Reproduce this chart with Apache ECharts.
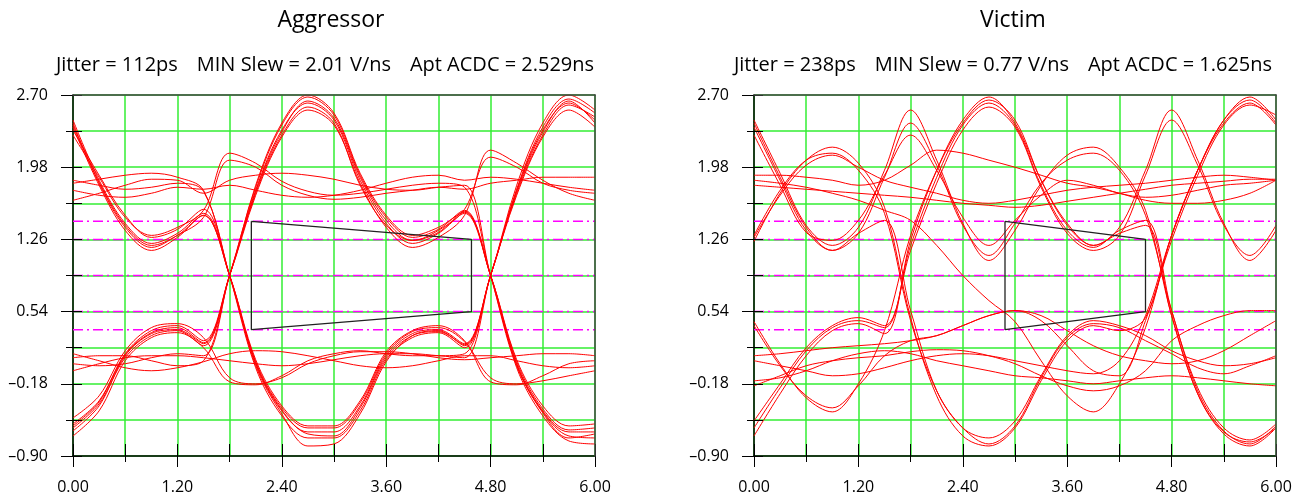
<!DOCTYPE html>
<html>
<head>
<meta charset="utf-8">
<script src="https://cdn.jsdelivr.net/npm/echarts@6.0.0/dist/echarts.min.js"></script>
<style>
  html, body { margin: 0; padding: 0; background: #fff; }
  #chart { width: 1304px; height: 498px; }
</style>
</head>
<body>
<div id="chart"></div>
<script>
// time axis (ns), one sample every 0.3 ns
const timeNs = [0, 0.3, 0.6, 0.9, 1.2, 1.5, 1.8, 2.1, 2.4, 2.7, 3.0, 3.3, 3.6, 3.9, 4.2, 4.5, 4.8, 5.1, 5.4, 5.7, 6.0]

// tick values
const yMinorTicks = [-0.9, -0.54, -0.18, 0.18, 0.54, 0.9, 1.26, 1.62, 1.98, 2.34, 2.7]
const yMajorTicks = [-0.9, -0.18, 0.54, 1.26, 1.98, 2.7]

// magenta threshold levels (V)
const refLevels = [1.44, 1.26, 0.90, 0.54, 0.36]

// eye masks
const aggMaskX = [2.05, 2.05, 4.58, 4.58, 2.05]
const aggMaskY = [1.44, 0.36, 0.54, 1.26, 1.44]
const vicMaskX = [2.885, 2.885, 4.50, 4.50, 2.885]
const vicMaskY = [1.44, 0.36, 0.54, 1.26, 1.44]

const chartTitles = ['Aggressor', 'Victim']
const GAP = '   \u2009'
const chartStats = [
  'Jitter = 112ps' + GAP + 'MIN Slew = 2.01 V/ns' + GAP + 'Apt ACDC = 2.529ns',
  'Jitter = 238ps' + GAP + 'MIN Slew = 0.77 V/ns' + GAP + 'Apt ACDC = 1.625ns'
]

// aggressor traces (V)
const agg01 = [2.45, 1.85, 1.42, 1.22, 1.32, 1.52, 0.90, 0.02, -0.45, -0.66, -0.66, -0.40, 0.10, 0.32, 0.36, 0.22, 0.90, 1.75, 2.35, 2.62, 2.45]
const agg02 = [2.38, 1.80, 1.35, 1.15, 1.28, 1.50, 0.90, 0.06, -0.40, -0.60, -0.60, -0.35, 0.14, 0.35, 0.40, 0.25, -0.16, -0.19, -0.10, 0.02, 0.05]
const agg03 = [2.30, 1.88, 1.48, 1.30, 1.38, 1.55, 2.12, 2.02, 1.84, 1.74, 1.70, 1.72, 1.76, 1.80, 1.82, 1.78, 0.90, 0.02, -0.45, -0.66, -0.66]
const agg04 = [2.42, 1.82, 1.38, 1.18, 1.30, 1.48, 2.05, 1.98, 1.80, 1.70, 1.66, 1.68, 1.72, 1.75, 1.78, 1.76, 1.82, 1.85, 1.88, 1.88, 1.88]
const agg05 = [-0.65, -0.40, 0.10, 0.32, 0.36, 0.22, 0.90, 1.75, 2.35, 2.62, 2.45, 1.85, 1.42, 1.22, 1.32, 1.52, 0.90, 0.06, -0.40, -0.60, -0.58]
const agg06 = [-0.58, -0.35, 0.12, 0.35, 0.40, 0.25, 0.90, 1.70, 2.28, 2.55, 2.40, 1.82, 1.38, 1.18, 1.28, 1.50, 2.15, 2.02, 1.85, 1.72, 1.65]
const agg07 = [-0.70, -0.45, 0.05, 0.28, 0.33, 0.18, -0.16, -0.19, -0.10, 0.05, 0.12, 0.15, 0.12, 0.10, 0.10, 0.12, 0.90, 1.70, 2.28, 2.55, 2.38]
const agg08 = [-0.52, -0.30, 0.15, 0.38, 0.42, 0.28, -0.12, -0.18, -0.12, 0.02, 0.10, 0.14, 0.14, 0.12, 0.08, 0.06, 0.08, 0.10, 0.12, 0.12, 0.10]
const agg09 = [1.82, 1.86, 1.90, 1.92, 1.88, 1.75, 0.90, -0.02, -0.50, -0.72, -0.72, -0.45, 0.06, 0.28, 0.33, 0.18, 0.90, 1.80, 2.42, 2.70, 2.55]
const agg10 = [1.65, 1.72, 1.80, 1.86, 1.85, 1.72, 1.85, 1.90, 1.92, 1.90, 1.86, 1.80, 1.76, 1.75, 1.78, 1.80, 0.90, -0.02, -0.50, -0.75, -0.78]
const agg11 = [1.75, 1.70, 1.68, 1.72, 1.78, 1.76, 1.80, 1.75, 1.70, 1.68, 1.70, 1.75, 1.82, 1.88, 1.90, 1.85, 1.88, 1.86, 1.82, 1.78, 1.75]
const agg12 = [0.08, 0.10, 0.10, 0.05, 0.00, 0.05, 0.90, 1.78, 2.40, 2.68, 2.50, 1.90, 1.48, 1.28, 1.36, 1.55, 0.90, 0.00, -0.46, -0.70, -0.72]
const agg13 = [-0.05, 0.02, 0.08, 0.10, 0.10, 0.08, 0.05, 0.02, 0.00, 0.02, 0.06, 0.10, 0.12, 0.12, 0.10, 0.08, 0.90, 1.72, 2.30, 2.60, 2.48]
const agg14 = [0.12, 0.05, -0.02, -0.05, -0.02, 0.04, 0.12, 0.15, 0.14, 0.10, 0.05, 0.00, -0.02, 0.00, 0.05, 0.10, 0.10, 0.05, 0.00, -0.02, 0.00]
const agg15 = [1.85, 1.80, 1.76, 1.78, 1.82, 1.74, 0.90, 0.04, -0.42, -0.62, -0.62, -0.37, 0.12, 0.34, 0.38, 0.24, -0.12, -0.18, -0.15, -0.10, -0.05]
const agg16 = [0.02, 0.00, 0.02, 0.08, 0.12, 0.10, 0.90, 1.72, 2.30, 2.58, 2.42, 1.80, 1.40, 1.25, 1.35, 1.56, 2.08, 1.98, 1.82, 1.75, 1.72]
const agg17 = [-0.62, -0.38, 0.08, 0.30, 0.35, 0.20, 0.90, 1.80, 2.42, 2.70, 2.52, 1.92, 1.50, 1.30, 1.38, 1.53, 0.90, 0.04, -0.43, -0.64, -0.62]
const agg18 = [2.35, 1.90, 1.50, 1.28, 1.36, 1.56, 0.90, 0.00, -0.48, -0.80, -0.78, -0.48, 0.04, 0.30, 0.35, 0.20, 0.90, 1.76, 2.38, 2.66, 2.52]
const agg19 = [2.40, 1.83, 1.40, 1.20, 1.30, 1.50, 0.90, 0.03, -0.44, -0.68, -0.70, -0.42, 0.08, 0.30, 0.34, 0.21, 0.90, 1.74, 2.33, 2.64, 2.42]
const agg20 = [-0.60, -0.36, 0.11, 0.33, 0.38, 0.23, 0.90, 1.74, 2.33, 2.64, 2.47, 1.88, 1.45, 1.25, 1.33, 1.54, 0.90, 0.01, -0.47, -0.72, -0.68]

// victim traces (V)
const vic01 = [2.45, 1.92, 1.40, 1.20, 1.38, 1.95, 2.55, 2.05, 1.42, 1.05, 1.35, 1.80, 2.10, 2.18, 1.98, 1.55, 0.50, -0.28, -0.68, -0.80, -0.62]
const vic02 = [2.38, 1.85, 1.35, 1.15, 1.32, 1.88, 2.42, 2.00, 1.40, 1.10, 1.42, 1.82, 2.05, 2.12, 1.95, 1.50, 0.55, -0.22, -0.62, -0.74, -0.58]
const vic03 = [2.30, 1.80, 1.33, 1.25, 1.45, 1.90, 2.30, 1.95, 1.48, 1.20, 1.45, 1.70, 1.85, 1.80, 1.72, 1.68, 1.70, 1.75, 1.80, 1.82, 1.85]
const vic04 = [2.42, 1.88, 1.38, 1.15, 1.32, 1.45, 0.55, -0.25, -0.62, -0.78, -0.60, -0.12, 0.28, 0.42, 0.38, 0.25, 0.12, -0.02, -0.08, 0.00, 0.10]
const vic05 = [1.24, 1.72, 2.05, 2.18, 2.02, 1.58, 0.48, -0.30, -0.70, -0.80, -0.62, -0.15, 0.25, 0.40, 0.35, 0.48, 1.30, 1.95, 2.45, 2.68, 2.45]
const vic06 = [1.30, 1.75, 2.05, 2.12, 1.95, 1.52, 0.45, -0.25, -0.62, -0.72, -0.55, -0.10, 0.30, 0.45, 0.40, 0.30, 0.15, 0.05, 0.00, 0.02, 0.08]
const vic07 = [1.28, 1.70, 2.00, 2.10, 1.98, 1.85, 1.78, 1.72, 1.65, 1.62, 1.65, 1.70, 1.75, 1.78, 1.80, 1.82, 1.85, 1.88, 1.90, 1.88, 1.85]
const vic08 = [-0.70, -0.28, 0.10, 0.35, 0.42, 0.32, 1.25, 1.95, 2.45, 2.68, 2.42, 1.85, 1.40, 1.20, 1.38, 1.95, 2.55, 2.05, 1.42, 1.05, 1.35]
const vic09 = [-0.62, -0.22, 0.15, 0.38, 0.45, 0.38, 1.20, 1.88, 2.40, 2.62, 2.40, 1.80, 1.35, 1.18, 1.35, 1.45, 0.55, -0.25, -0.65, -0.78, -0.60]
const vic10 = [0.44, 0.02, -0.32, -0.46, -0.18, 0.35, 1.30, 1.95, 2.42, 2.65, 2.45, 1.85, 1.42, 1.20, 1.32, 1.40, 0.50, -0.28, -0.66, -0.76, -0.62]
const vic11 = [0.40, 0.00, -0.30, -0.42, -0.20, 0.10, 0.25, 0.30, 0.40, 0.50, 0.55, 0.50, 0.35, 0.20, 0.10, 0.05, 0.02, 0.05, 0.15, 0.30, 0.45]
const vic12 = [0.05, 0.00, -0.05, -0.10, -0.08, -0.02, 0.05, 0.10, 0.12, 0.10, 0.05, 0.00, -0.05, -0.08, 0.05, 0.50, 1.30, 1.95, 2.45, 2.65, 2.42]
const vic13 = [1.85, 1.82, 1.78, 1.72, 1.65, 1.55, 1.45, 1.20, 0.90, 0.65, 0.44, 0.05, -0.30, -0.46, -0.18, 0.38, 1.30, 1.95, 2.42, 2.62, 2.40]
const vic14 = [0.10, 0.12, 0.15, 0.18, 0.20, 0.22, 0.25, 0.30, 0.40, 0.50, 0.55, 0.45, 0.20, -0.05, -0.10, 0.45, 1.25, 1.90, 2.40, 2.60, 2.50]
const vic15 = [-0.15, -0.12, -0.05, 0.05, 0.12, 0.15, 0.12, 0.05, 0.00, -0.05, -0.10, -0.12, -0.15, -0.18, -0.15, -0.12, -0.10, -0.12, -0.15, -0.18, -0.20]
const vic16 = [1.80, 1.78, 1.76, 1.74, 1.72, 1.70, 1.68, 1.65, 1.62, 1.60, 1.58, 1.60, 1.64, 1.68, 1.72, 1.76, 1.80, 1.82, 1.84, 1.86, 1.86]
const vic17 = [1.90, 1.90, 1.88, 1.85, 1.80, 1.85, 2.00, 2.15, 2.12, 2.05, 1.98, 1.90, 1.82, 1.78, 1.72, 1.65, 1.62, 1.62, 1.65, 1.72, 1.85]
const vic18 = [-0.20, -0.10, 0.00, 0.05, 0.08, 0.10, 0.14, 0.16, 0.15, 0.10, 0.02, -0.10, -0.20, -0.25, -0.20, -0.05, 0.25, 0.40, 0.50, 0.55, 0.55]
const vic19 = [-0.55, -0.18, 0.18, 0.40, 0.48, 0.40, 1.15, 1.82, 2.35, 2.58, 2.38, 1.78, 1.32, 1.15, 1.30, 1.90, 2.45, 2.00, 1.40, 1.10, 1.40]

const aggressorTraces = [agg01, agg02, agg03, agg04, agg05, agg06, agg07, agg08, agg09, agg10,
  agg11, agg12, agg13, agg14, agg15, agg16, agg17, agg18, agg19, agg20]
const victimTraces = [vic01, vic02, vic03, vic04, vic05, vic06, vic07, vic08, vic09, vic10,
  vic11, vic12, vic13, vic14, vic15, vic16, vic17, vic18, vic19]

const FONT = '"Open Sans", "DejaVu Sans", sans-serif'
const GREEN = '#33ee33'
const plots = [
  { left: 73, traces: aggressorTraces, maskX: aggMaskX, maskY: aggMaskY, titleDx: -3, statDx: -9 },
  { left: 754, traces: victimTraces, maskX: vicMaskX, maskY: vicMaskY, titleDx: -2, statDx: -12 }
]
const PLOT_TOP = 95
const PLOT_W = 522
const PLOT_H = 361

function fmtY(v) {
  return v < 0 ? '\u2013' + Math.abs(v).toFixed(2) : v.toFixed(2)
}

const grids = []
const xAxes = []
const yAxes = []
const series = []
const graphics = []

plots.forEach((p, g) => {
  grids.push({ left: p.left, top: PLOT_TOP, width: PLOT_W, height: PLOT_H })
  const xBase = { type: 'value', gridIndex: g, min: 0, max: 6, position: 'bottom' }
  const yBase = { type: 'value', gridIndex: g, min: -0.9, max: 2.7, position: 'left' }
  const noLine = { show: false, onZero: false }

  // x: minor ticks + green grid
  xAxes.push(Object.assign({}, xBase, {
    interval: 0.6,
    axisLine: { show: true, onZero: false, lineStyle: { color: '#000', width: 1.5 } },
    axisTick: { show: true, inside: false, length: 6, lineStyle: { color: '#000' } },
    axisLabel: { show: false },
    splitLine: { show: true, lineStyle: { color: GREEN, width: 1.5 } },
    z: 1
  }))
  // x: major ticks + labels
  xAxes.push(Object.assign({}, xBase, {
    interval: 1.2,
    axisLine: noLine,
    axisTick: { show: true, inside: false, length: 11, lineStyle: { color: '#000' } },
    axisLabel: { show: true, margin: 23, color: '#000', fontSize: 16, fontFamily: FONT,
      formatter: v => v.toFixed(2) },
    splitLine: { show: false },
    z: 5
  }))
  // x: inner ticks
  xAxes.push(Object.assign({}, xBase, {
    interval: 0.6,
    axisLine: noLine,
    axisTick: { show: true, inside: true, length: 12, lineStyle: { color: '#000' } },
    axisLabel: { show: false },
    splitLine: { show: false },
    z: 5
  }))
  // x: top frame
  xAxes.push(Object.assign({}, xBase, {
    position: 'top',
    axisLine: { show: true, onZero: false, lineStyle: { color: '#444', width: 1.5 } },
    axisTick: { show: false },
    axisLabel: { show: false },
    splitLine: { show: false },
    z: 6
  }))

  // y: minor ticks + green grid
  yAxes.push(Object.assign({}, yBase, {
    axisLine: { show: true, onZero: false, lineStyle: { color: '#000', width: 1.5 } },
    axisTick: { show: true, inside: false, length: 7, customValues: yMinorTicks, lineStyle: { color: '#000' } },
    axisLabel: { show: false },
    splitLine: { show: true, lineStyle: { color: GREEN, width: 1.5 } },
    z: 1
  }))
  // y: major ticks + labels
  yAxes.push(Object.assign({}, yBase, {
    axisLine: noLine,
    axisTick: { show: true, inside: false, length: 12, customValues: yMajorTicks, lineStyle: { color: '#000' } },
    axisLabel: { show: true, margin: 25, color: '#000', fontSize: 16, fontFamily: FONT,
      customValues: yMajorTicks, formatter: fmtY },
    splitLine: { show: false },
    z: 5
  }))
  // y: inner ticks
  yAxes.push(Object.assign({}, yBase, {
    axisLine: noLine,
    axisTick: { show: true, inside: true, length: 9, customValues: yMinorTicks, lineStyle: { color: '#000' } },
    axisLabel: { show: false },
    splitLine: { show: false },
    z: 5
  }))
  // y: right frame
  yAxes.push(Object.assign({}, yBase, {
    position: 'right',
    axisLine: { show: true, onZero: false, lineStyle: { color: '#444', width: 1.5 } },
    axisTick: { show: false },
    axisLabel: { show: false },
    splitLine: { show: false },
    z: 6
  }))

  const xi = g * 4
  const yi = g * 4

  refLevels.forEach(level => {
    series.push({
      type: 'line', xAxisIndex: xi, yAxisIndex: yi, silent: true, showSymbol: false,
      data: [[0, level], [6, level]],
      lineStyle: { color: '#ff00ff', width: 1.5, type: [10, 4, 2, 4] },
      z: 2
    })
  })

  p.traces.forEach(tr => {
    series.push({
      type: 'line', xAxisIndex: xi, yAxisIndex: yi, silent: true, showSymbol: false,
      smooth: 0.35,
      data: timeNs.map((t, i) => [t, tr[i]]),
      lineStyle: { color: '#ff0000', width: 1 },
      z: 3
    })
  })

  series.push({
    type: 'line', xAxisIndex: xi, yAxisIndex: yi, silent: true, showSymbol: false,
    data: p.maskX.map((x, i) => [x, p.maskY[i]]),
    lineStyle: { color: '#222', width: 1.3 },
    z: 4
  })

  const cx = p.left + PLOT_W / 2
  graphics.push({
    type: 'text', x: cx + p.titleDx, y: 9,
    style: { text: chartTitles[g], font: '23px ' + FONT, fill: '#000', align: 'center', textAlign: 'center' }
  })
  graphics.push({
    type: 'text', x: cx + p.statDx, y: 55,
    style: { text: chartStats[g], font: '20px ' + FONT, fill: '#000', align: 'center', textAlign: 'center' }
  })
})

const chart = echarts.init(document.getElementById('chart'))
chart.setOption({
  animation: false,
  backgroundColor: '#fff',
  grid: grids,
  xAxis: xAxes,
  yAxis: yAxes,
  series: series,
  graphic: graphics
})
</script>
</body>
</html>
